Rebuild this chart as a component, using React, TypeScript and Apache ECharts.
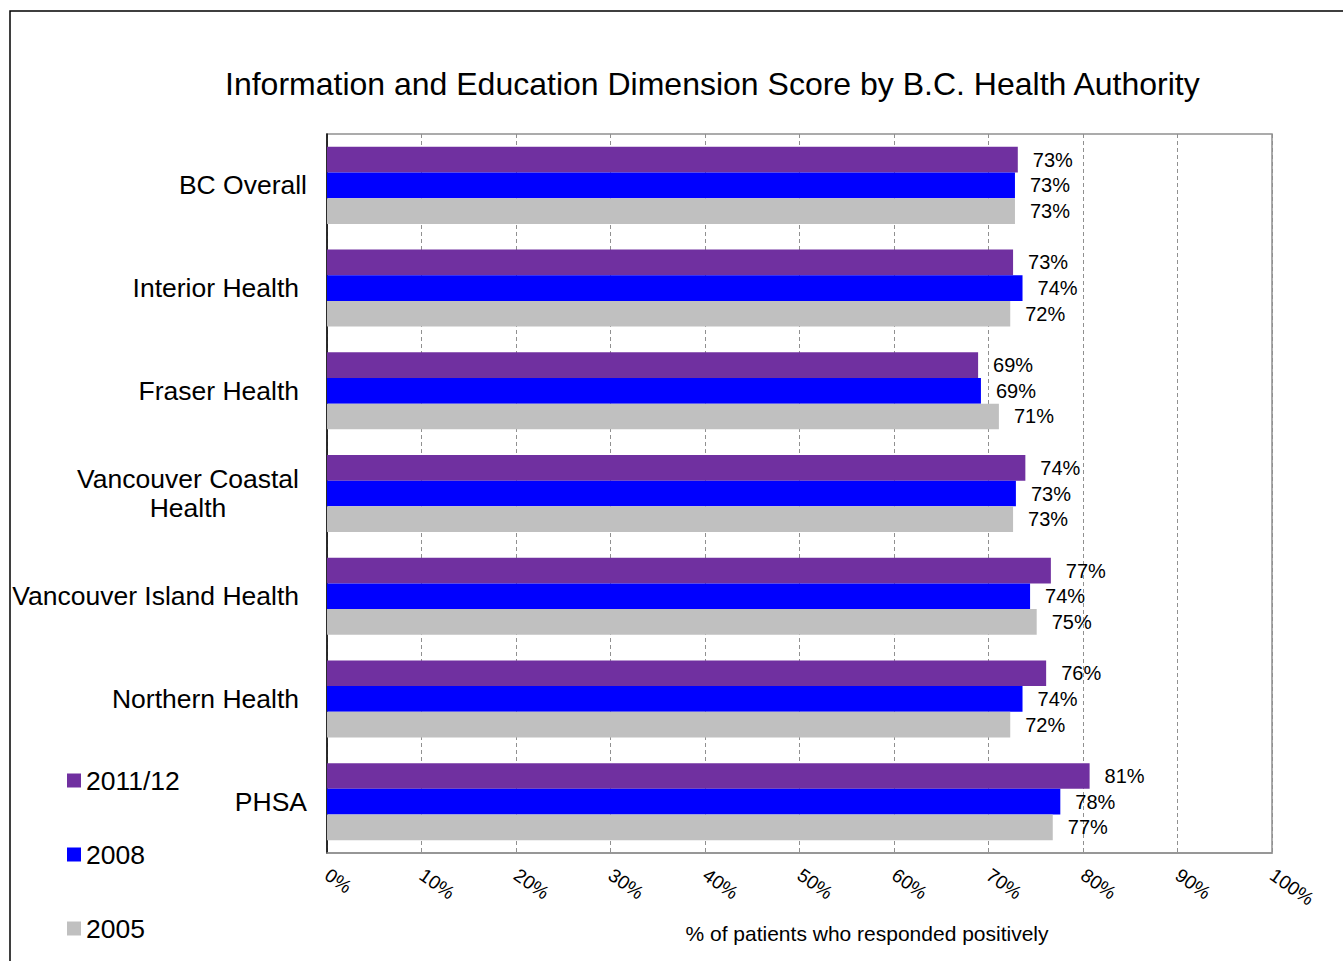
import React, { useEffect, useRef } from "react";
import * as echarts from "echarts";

const categories = [
  "BC Overall",
  "Interior Health",
  "Fraser Health",
  "Vancouver Coastal\nHealth",
  "Vancouver Island Health",
  "Northern Health",
  "PHSA",
];
const seriesNames = ["2011/12", "2008", "2005"];
const values2011 = [73.1, 72.6, 68.9, 73.9, 76.6, 76.1, 80.7];
const values2008 = [72.8, 73.6, 69.2, 72.9, 74.4, 73.6, 77.6];
const values2005 = [72.8, 72.3, 71.1, 72.6, 75.1, 72.3, 76.8];
const xTicks = [0, 10, 20, 30, 40, 50, 60, 70, 80, 90, 100];
const colors = ["#7030A0", "#0000FF", "#C0C0C0"];

const FONT = "'Liberation Sans', Arial, sans-serif";

export default function App() {
  const ref = useRef<HTMLDivElement>(null);
  useEffect(() => {
    if (!ref.current) return;
    const chart = echarts.init(ref.current, null, { renderer: "svg" });
    const data = [values2011, values2008, values2005];
    chart.setOption({
      animation: false,
      backgroundColor: "#fff",
      textStyle: { fontFamily: FONT, color: "#000" },
      title: {
        text: "Information and Education Dimension Score by B.C. Health Authority",
        left: 220,
        top: 63,
        textStyle: { fontSize: 32, fontWeight: "normal", color: "#000", fontFamily: FONT },
      },
      legend: {
        orient: "vertical",
        left: 62,
        top: 762,
        itemWidth: 14,
        itemHeight: 14,
        itemGap: 47,
        icon: "rect",
        data: seriesNames,
        textStyle: { fontSize: 26.5, color: "#000", fontFamily: FONT, lineHeight: 26 },
      },
      grid: { left: 327, top: 134, right: 71, bottom: 108, show: true, borderColor: "#909090", borderWidth: 1.5 },
      xAxis: {
        type: "value",
        min: xTicks[0],
        max: xTicks[xTicks.length - 1],
        interval: 10,
        axisLine: { show: true, lineStyle: { color: "#909090", width: 1.5 } },
        axisTick: { show: false },
        splitLine: { show: true, lineStyle: { color: "#909090", type: [4, 3], width: 1 } },
        axisLabel: {
          formatter: (v: number) => v + "%",
          rotate: -35,
          fontSize: 19,
          color: "#000",
          margin: 20,
          fontFamily: FONT,
        },
      },
      yAxis: {
        type: "category",
        data: categories,
        inverse: true,
        axisLine: { show: true, lineStyle: { color: "#000", width: 1.5 } },
        axisTick: { show: false },
        splitLine: { show: false },
        axisLabel: {
          margin: 28,
          color: "#000",
          fontSize: 26.5,
          fontFamily: FONT,
          formatter: (v: string) =>
            v === "BC Overall" || v === "PHSA"
              ? "{b|" + v + "}"
              : v
                  .split("\n")
                  .map((s) => "{a|" + s + "}")
                  .join("\n"),
          rich: {
            a: { align: "center", fontSize: 26.5, lineHeight: 29, fontFamily: FONT, color: "#000" },
            b: { fontSize: 26.5, lineHeight: 29, fontFamily: FONT, color: "#000", padding: [0, -8, 0, 0] },
          },
        },
      },
      series: seriesNames.map((name, i) => ({
        name,
        type: "bar",
        data: data[i],
        barGap: "0%",
        barCategoryGap: "25%",
        itemStyle: { color: colors[i] },
        label: {
          show: true,
          position: "right",
          distance: 15,
          fontSize: 20,
          color: "#000",
          fontFamily: FONT,
          formatter: (p: any) => Math.round(p.value) + "%",
        },
      })),
      graphic: [
        {
          type: "rect",
          shape: { x: 10, y: 11, width: 1400, height: 1000 },
          style: { fill: "none", stroke: "#000", lineWidth: 1.5 },
          silent: true,
        },
        {
          type: "text",
          x: 867,
          y: 933,
          style: {
            text: "% of patients who responded positively",
            fontSize: 21,
            fontFamily: FONT,
            fill: "#000",
            align: "center",
            verticalAlign: "middle",
          },
        },
      ],
    });
    return () => chart.dispose();
  }, []);
  return (
    <div style={{ position: "absolute", left: 0, top: 0, width: 1343, height: 961 }}>
      <div ref={ref} style={{ width: 1343, height: 961 }} />
    </div>
  );
}
